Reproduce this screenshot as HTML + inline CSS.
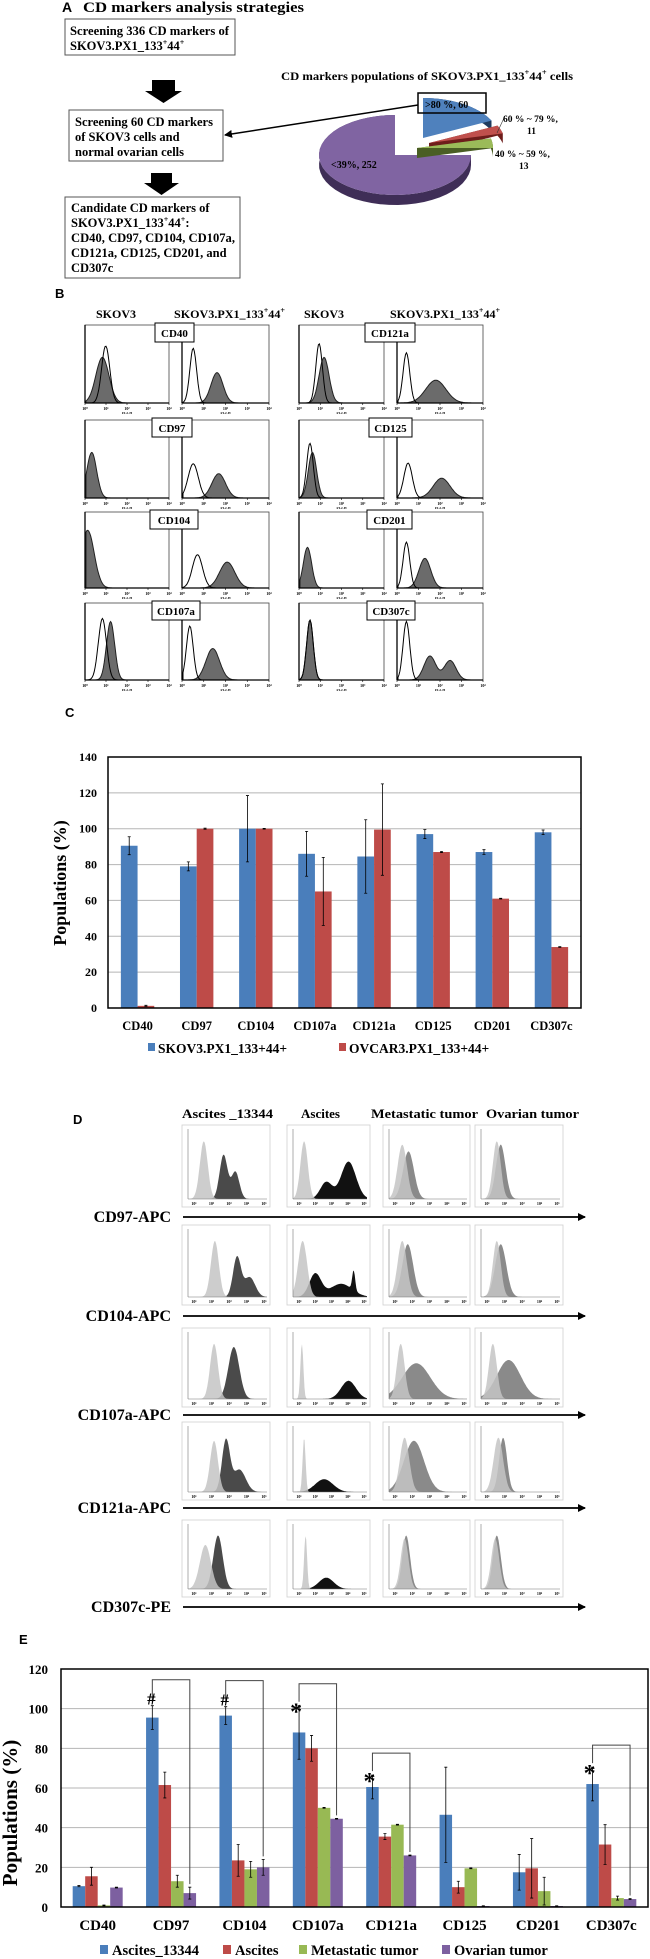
<!DOCTYPE html>
<html><head><meta charset="utf-8"><style>
html,body{margin:0;padding:0;background:#fff}
svg{display:block}
text{font-family:"Liberation Serif",serif;font-weight:bold;fill:#000}
.sans{font-family:"Liberation Sans",sans-serif}
</style></head><body>
<svg id="fig" xmlns="http://www.w3.org/2000/svg" width="650" height="1959" viewBox="0 0 650 1959">
<defs>
<marker id="ah" markerWidth="8" markerHeight="8" refX="7" refY="4" orient="auto" markerUnits="userSpaceOnUse"><path d="M0,0 L8,4 L0,8 Z" fill="#000"/></marker>
</defs>
<g>
<text class="sans" x="62" y="12" font-size="14">A</text>
<text x="83" y="12" font-size="15" textLength="221" lengthAdjust="spacingAndGlyphs">CD markers analysis strategies</text>
<rect x="65" y="19" width="170" height="36" fill="#fff" stroke="#555"/>
<text x="70" y="35" font-size="12.5" textLength="159" lengthAdjust="spacingAndGlyphs">Screening 336 CD markers of</text>
<text x="70" y="50" font-size="12.5">SKOV3.PX1_133<tspan font-size="8" dy="-5">+</tspan><tspan dy="5">44</tspan><tspan font-size="8" dy="-5">+</tspan></text>
<path d="M152,80 H175 V91 H182 L163.5,103 L145,91 H152 Z" fill="#000"/>
<rect x="69" y="110" width="154" height="51" fill="#fff" stroke="#555"/>
<text x="75" y="126" font-size="12.5" textLength="138" lengthAdjust="spacingAndGlyphs">Screening 60 CD markers</text>
<text x="75" y="141" font-size="12.5">of SKOV3 cells and</text>
<text x="75" y="156" font-size="12.5">normal ovarian cells</text>
<path d="M151,173 H172 V183 H179 L161.5,195 L144,183 H151 Z" fill="#000"/>
<rect x="65" y="197" width="175" height="81" fill="#fff" stroke="#555"/>
<text x="71" y="212" font-size="12.5">Candidate CD markers of</text>
<text x="71" y="227" font-size="12.5">SKOV3.PX1_133<tspan font-size="8" dy="-5">+</tspan><tspan dy="5">44</tspan><tspan font-size="8" dy="-5">+</tspan><tspan dy="5">:</tspan></text>
<text x="71" y="242" font-size="12.5" textLength="164" lengthAdjust="spacingAndGlyphs">CD40, CD97, CD104, CD107a,</text>
<text x="71" y="257" font-size="12.5">CD121a, CD125, CD201, and</text>
<text x="71" y="272" font-size="12.5">CD307c</text>
<text x="281" y="80" font-size="12" textLength="292" lengthAdjust="spacingAndGlyphs">CD markers populations of SKOV3.PX1_133<tspan font-size="8" dy="-5">+</tspan><tspan dy="5">44</tspan><tspan font-size="8" dy="-5">+</tspan><tspan dy="5"> cells</tspan></text>
<g id="pie"></g>
<line x1="418" y1="105" x2="225" y2="135" stroke="#000" stroke-width="1.5" marker-end="url(#ah)"/>
<rect x="418" y="93" width="68" height="20" fill="none" stroke="#000" stroke-width="1.5"/>
<text x="425" y="108" font-size="10">&gt;80 %, 60</text>
<line x1="497" y1="133" x2="504" y2="118" stroke="#333" stroke-width="0.6"/>
<text x="503" y="122" font-size="9.5">60 % ~ 79 %,</text>
<text x="527" y="134" font-size="9.5">11</text>
<text x="495" y="157" font-size="9.5">40 % ~ 59 %,</text>
<text x="519" y="169" font-size="9.5">13</text>
<text x="331" y="168" font-size="10">&lt;39%, 252</text>
</g>
<text class="sans" x="55" y="298" font-size="13">B</text>
<text x="96" y="318" font-size="12">SKOV3</text>
<text x="174" y="318" font-size="12" textLength="111" lengthAdjust="spacingAndGlyphs">SKOV3.PX1_133<tspan font-size="8" dy="-5">+</tspan><tspan dy="5">44</tspan><tspan font-size="8" dy="-5">+</tspan></text>
<text x="304" y="318" font-size="12">SKOV3</text>
<text x="390" y="318" font-size="12" textLength="110" lengthAdjust="spacingAndGlyphs">SKOV3.PX1_133<tspan font-size="8" dy="-5">+</tspan><tspan dy="5">44</tspan><tspan font-size="8" dy="-5">+</tspan></text>
<g id="panelB"></g>
<text class="sans" x="65" y="717" font-size="13">C</text>
<g id="chartC"></g>
<text class="sans" x="73" y="1124" font-size="13">D</text>
<text x="182" y="1118" font-size="13" textLength="91" lengthAdjust="spacingAndGlyphs">Ascites _13344</text>
<text x="301" y="1118" font-size="13">Ascites</text>
<text x="371" y="1118" font-size="13" textLength="107" lengthAdjust="spacingAndGlyphs">Metastatic tumor</text>
<text x="486" y="1118" font-size="13" textLength="93" lengthAdjust="spacingAndGlyphs">Ovarian tumor</text>
<g id="panelD"></g>
<text class="sans" x="19" y="1644" font-size="13">E</text>
<g id="chartE"></g>
</svg>
<script>
const NS='http://www.w3.org/2000/svg';
function mk(tag,attrs,parent){const e=document.createElementNS(NS,tag);for(const k in attrs)e.setAttribute(k,attrs[k]);parent.appendChild(e);return e;}
function tx(x,y,s,size,parent,anchor){const e=mk('text',{x:x,y:y,'font-size':size,'text-anchor':anchor||'start'},parent);e.textContent=s;return e;}

const pieLabels=['>80 %','60 % ~ 79 %','40 % ~ 59 %','<39%'];
const pieCounts=[60,11,13,252];
const pieTop=['#4f81bd','#c0504d','#9bbb59','#8064a2'];
const pieSide=['#1f3b5e','#6e1d1b','#4a5e24','#3f2e57'];
(function(){
  const g=document.getElementById('pie');
  const total=pieCounts.reduce((a,b)=>a+b,0);
  const rx=76,ry=40,dep=10;
  const offs=[[28,-17],[34,-12],[22,-7],[0,0]];
  let a0=-Math.PI/2;
  const slices=[];
  pieCounts.forEach((c,i)=>{const a1=a0+c/total*2*Math.PI;slices.push([a0,a1]);a0=a1;});
  [3,0,1,2].forEach(i=>{
    const [s,e]=slices[i];const cx=395+offs[i][0],cy=155+offs[i][1];
    const pt=a=>[cx+rx*Math.cos(a),cy+ry*Math.sin(a)];
    const n=40;const pts=[];
    for(let k=0;k<=n;k++){const a=s+(e-s)*k/n;pts.push(pt(a));}
    const d='M'+pts.map(p=>p[0].toFixed(1)+','+(p[1]+dep).toFixed(1)).join(' L')+' L'+pts.slice().reverse().map(p=>p[0].toFixed(1)+','+p[1].toFixed(1)).join(' L')+'Z';
    const side=mk('path',{d:d,fill:pieSide[i]},g);
    
    
    const [sx,sy]=pt(s);
    const fr=mk('path',{d:`M${cx},${cy} L${cx},${cy+dep} L${sx},${sy+dep} L${sx},${sy}Z`,fill:pieSide[i]},g);
    
    
    const topd='M'+cx+','+cy+' L'+pts.map(p=>p[0].toFixed(1)+','+p[1].toFixed(1)).join(' L')+'Z';
    const t=mk('path',{d:topd,fill:pieTop[i]},g);
    
    
  });
})();

function hist(g,x0,y0,x1,y1,peaks,fill,stroke){
  const n=90;let d='M'+x0+','+y1;
  for(let k=0;k<=n;k++){const t=k/n;let v=0;peaks.forEach(p=>{v+=p[2]*Math.exp(-Math.pow((t-p[0])/p[1],2)/2);});
    v=Math.min(v,0.95);
    d+=' L'+(x0+t*(x1-x0)).toFixed(1)+','+(y1-v*(y1-y0)).toFixed(1);}
  d+=' L'+x1+','+y1+'Z';
  return mk('path',{d:d,fill:fill,stroke:stroke||'none','stroke-width':stroke?1:0},g);
}

const bRows=[[325,403],[420,498],[512,588],[603,680]];
const bCols=[[85,169],[182,269],[299,384],[397,483]];
const bMarkersL=['CD40','CD97','CD104','CD107a'];
const bMarkersR=['CD121a','CD125','CD201','CD307c'];
const bFilled=[
 [[[0.2,0.08,0.6]],[[0.4,0.07,0.4]],[[0.29,0.06,0.6]],[[0.45,0.12,0.3]]],
 [[[0.07,0.06,0.6]],[[0.42,0.08,0.32]],[[0.15,0.05,0.6]],[[0.52,0.1,0.26]]],
 [[[0.02,0.08,0.78]],[[0.52,0.09,0.35]],[[0.09,0.05,0.55]],[[0.32,0.07,0.4]]],
 [[[0.3,0.05,0.78]],[[0.35,0.08,0.42]],[[0.12,0.04,0.8]],[[0.38,0.07,0.32],[0.62,0.07,0.26]]]];
const bOutline=[
 [[[0.24,0.05,0.75]],[[0.12,0.04,0.72]],[[0.23,0.04,0.78]],[[0.1,0.04,0.66]]],
 [[],[[0.12,0.06,0.45]],[[0.12,0.04,0.72]],[[0.12,0.05,0.46]]],
 [[],[[0.17,0.06,0.45]],[],[[0.1,0.04,0.62]]],
 [[[0.2,0.05,0.82]],[[0.08,0.04,0.72]],[[0.12,0.04,0.8]],[[0.1,0.04,0.78]]]];
const bLabelBoxL=[[155,194],[152,192],[150,198],[152,200]];
const bLabelBoxR=[[365,415],[369,412],[367,412],[367,415]];
(function(){
  const g=document.getElementById('panelB');
  bRows.forEach((r,ri)=>{
    bCols.forEach((c,ci)=>{
      const pg=mk('g',{},g);
      
      
      mk('rect',{x:c[0],y:r[0],width:c[1]-c[0],height:r[1]-r[0],fill:'#fff',stroke:'#444','stroke-width':0.8},pg);
      hist(pg,c[0]+1,r[0]+2,c[1]-1,r[1],bFilled[ri][ci],'#6b6b6b','#222');
      bOutline[ri][ci].length&&hist(pg,c[0]+1,r[0]+2,c[1]-1,r[1],bOutline[ri][ci],'none','#000');
      mk('line',{x1:c[0],y1:r[0],x2:c[0],y2:r[1],stroke:'#000','stroke-width':1.3},pg);
      mk('line',{x1:c[0],y1:r[1],x2:c[1],y2:r[1],stroke:'#000','stroke-width':1.3},pg);
      for(let k=0;k<5;k++){const x=c[0]+k*(c[1]-c[0])/4;mk('line',{x1:x,y1:r[1],x2:x,y2:r[1]+2,stroke:'#000','stroke-width':0.6},pg);
        const t=tx(x,r[1]+7,'10'+['⁰','¹','²','³','⁴'][k],4,pg,'middle');t.setAttribute('fill','#555');}
      tx((c[0]+c[1])/2,r[1]+11,'FL2-H',3.5,pg,'middle');
    });
    [[bLabelBoxL,bMarkersL],[bLabelBoxR,bMarkersR]].forEach(([bx,names])=>{
      const b=bx[ri];
      const rr=mk('rect',{x:b[0],y:r[0]-2,width:b[1]-b[0],height:19,fill:'#fff',stroke:'#000','stroke-width':1},g);
      
      
      tx((b[0]+b[1])/2,r[0]+12,names[ri],11,g,'middle');
    });
  });
})();

const cCategories=['CD40','CD97','CD104','CD107a','CD121a','CD125','CD201','CD307c'];
const cSeriesNames=['SKOV3.PX1_133+44+','OVCAR3.PX1_133+44+'];
const cSkov3=[90.5,79,100,86,84.5,97,87,98];
const cSkov3Err=[5,2.5,18.5,12.5,20.5,2.5,1.3,1.3];
const cOvcar3=[1.2,100,100,65,99.5,87,61,34];
const cOvcar3Err=[0.3,0.3,0.2,19,25.5,0.3,0.2,0.2];
const cTicks=[0,20,40,60,80,100,120,140];
(function(){
  const g=document.getElementById('chartC');
  const L=108,R=581,T=757,B=1008,ymax=140;
  const y=v=>B-v/ymax*(B-T);
  const gw=(R-L)/cCategories.length,bw=16.7;
  cTicks.forEach(t=>{
    if(t>0&&t<ymax){const l=mk('line',{x1:L,x2:R,y1:y(t),y2:y(t),stroke:'#b5b5b5','stroke-width':1},g);}
    const tl=tx(L-11,y(t)+4,String(t),12,g,'end');
  });
  const series=[[cSkov3,cSkov3Err,'#4a7ebb'],[cOvcar3,cOvcar3Err,'#be4b48']];
  cCategories.forEach((cat,i)=>{
    const cx=L+gw*(i+0.5);
    series.forEach(([vals,errs,col],s)=>{
      const x=cx-bw+s*bw;
      const r=mk('rect',{x:x,y:y(vals[i]),width:bw,height:B-y(vals[i]),fill:col},g);
      
      
      const ex=x+bw/2,e1=y(vals[i]+errs[i]),e2=y(vals[i]-errs[i]);
      const eb=mk('path',{d:`M${ex},${e1} V${e2} M${ex-1.5},${e1} H${ex+1.5} M${ex-1.5},${e2} H${ex+1.5}`,stroke:'#000','stroke-width':0.8,fill:'none'},g);
      
      
    });
    const cl=tx(cx,1030,cat,12.5,g,'middle');
    
    
  });
  mk('rect',{x:L,y:T,width:R-L,height:B-T,fill:'none',stroke:'#000','stroke-width':1.5},g);
  const yt=tx(0,0,'Populations (%)',18,g,'middle');
  yt.setAttribute('transform','translate(66,883) rotate(-90)');
  
  
  const lx=[148,339],cols=['#4a7ebb','#be4b48'];
  cSeriesNames.forEach((n,i)=>{
    const s=mk('rect',{x:lx[i],y:1043,width:7,height:8,fill:cols[i]},g);
    
    
    const t=tx(lx[i]+10,1053,n,13.5,g);
    
    
  });
})();

const dMarkers=['CD97-APC','CD104-APC','CD107a-APC','CD121a-APC','CD307c-PE'];
const dRows=[[1125,1207],[1225,1305],[1328,1407],[1422,1500],[1520,1597]];
const dArrowY=[1217,1316,1415,1508,1607];
const dCols=[[182,270],[287,370],[383,470],[475,563]];
const dCtrl=[
 [[[0.2,0.05,0.85]],[[0.15,0.05,0.85]],[[0.17,0.06,0.8]],[[0.2,0.05,0.85]]],
 [[[0.34,0.05,0.85]],[[0.13,0.06,0.85]],[[0.17,0.06,0.85]],[[0.2,0.05,0.85]]],
 [[[0.33,0.05,0.85]],[[0.12,0.02,0.85]],[[0.15,0.05,0.85]],[[0.15,0.05,0.85]]],
 [[[0.33,0.05,0.8]],[[0.15,0.02,0.85]],[[0.2,0.06,0.85]],[[0.22,0.06,0.85]]],
 [[[0.22,0.07,0.7]],[[0.17,0.02,0.85]],[[0.2,0.05,0.8]],[[0.18,0.05,0.8]]]];
const dTest=[
 [[[0.45,0.05,0.65],[0.6,0.05,0.4]],[[0.75,0.1,0.55],[0.45,0.08,0.25]],[[0.25,0.07,0.7]],[[0.25,0.06,0.8]]],
 [[[0.62,0.05,0.6],[0.78,0.07,0.3]],[[0.3,0.08,0.35],[0.65,0.15,0.2],[0.82,0.02,0.3]],[[0.24,0.07,0.8]],[[0.25,0.07,0.8]]],
 [[[0.58,0.07,0.8]],[[0.75,0.1,0.28]],[[0.35,0.18,0.55]],[[0.35,0.15,0.6]]],
 [[[0.48,0.05,0.8],[0.65,0.08,0.35]],[[0.42,0.12,0.2]],[[0.32,0.13,0.8]],[[0.28,0.05,0.85]]],
 [[[0.38,0.06,0.85]],[[0.45,0.1,0.18]],[[0.22,0.05,0.85]],[[0.2,0.05,0.85]]]];
const dTestColor=['#4a4a4a','#111111','#8a8a8a','#8a8a8a'];
(function(){
  const g=document.getElementById('panelD');
  dRows.forEach((r,ri)=>{
    dCols.forEach((c,ci)=>{
      const pg=mk('g',{},g);
      
      
      mk('rect',{x:c[0],y:r[0],width:c[1]-c[0],height:r[1]-r[0],fill:'#fff',stroke:'#cfcfcf','stroke-width':0.8},pg);
      const px0=c[0]+6,py1=r[1]-8;
      hist(pg,px0,r[0]+6,c[1]-3,py1,dTest[ri][ci],dTestColor[ci]);
      const cp=hist(pg,px0,r[0]+6,c[1]-3,py1,dCtrl[ri][ci],'#c4c4c4');
      cp.setAttribute('fill-opacity','0.85');
      mk('line',{x1:px0,y1:r[0]+4,x2:px0,y2:py1,stroke:'#777','stroke-width':0.6},pg);
      mk('line',{x1:px0,y1:py1,x2:c[1]-3,y2:py1,stroke:'#777','stroke-width':0.6},pg);
      for(let k=0;k<5;k++){const x=px0+6+k*(c[1]-px0-12)/4;const t=tx(x,r[1]-2,'10'+['¹','²','³','⁴','⁵'][k],4,pg,'middle');t.setAttribute('fill','#555');}
    });
    const lab=tx(171,dArrowY[ri]+5,dMarkers[ri],16,g,'end');
    
    
    const a=mk('line',{x1:183,y1:dArrowY[ri],x2:585,y2:dArrowY[ri],stroke:'#000','stroke-width':1.8,'marker-end':'url(#ah)'},g);
    
    
  });
})();

const eCategories=['CD40','CD97','CD104','CD107a','CD121a','CD125','CD201','CD307c'];
const eSeriesNames=['Ascites_13344','Ascites','Metastatic tumor','Ovarian tumor'];
const eAscites13344=[10.5,95.5,96.5,88,60.5,46.5,17.5,62];
const eAscites13344Err=[0.3,6,4.5,13.5,6,24,9,8.5];
const eAscites=[15.5,61.5,23.5,80,35.5,10,19.5,31.5];
const eAscitesErr=[4.5,6.5,8,6.5,1.5,3,15,10];
const eMetastatic=[0.8,13,19,50,41.5,19.5,8,4.5];
const eMetastaticErr=[0.2,3,4,0.2,0.2,0.2,7,1];
const eOvarian=[9.8,7,20,44.5,26,0.5,0.5,4];
const eOvarianErr=[0.2,3,4,0.2,0.2,0.1,0.1,0.3];
const eTicks=[0,20,40,60,80,100,120];
const eSigMarks=['','#','#','*','*','','','*'];
(function(){
  const g=document.getElementById('chartE');
  const L=61,R=648,T=1669,B=1907,ymax=120;
  const y=v=>B-v/ymax*(B-T);
  const gw=(R-L)/eCategories.length,bw=12.5;
  eTicks.forEach(t=>{
    if(t>0&&t<ymax){const l=mk('line',{x1:L,x2:R,y1:y(t),y2:y(t),stroke:'#b5b5b5','stroke-width':1},g);}
    const tl=tx(L-13,y(t)+5,String(t),13,g,'end');
  });
  const series=[[eAscites13344,eAscites13344Err,'#4a7ebb'],[eAscites,eAscitesErr,'#be4b48'],[eMetastatic,eMetastaticErr,'#98b954'],[eOvarian,eOvarianErr,'#7d60a0']];
  eCategories.forEach((cat,i)=>{
    const cx=L+gw*(i+0.5);
    const tops=[];
    series.forEach(([vals,errs,col],s)=>{
      const x=cx-2*bw+s*bw;
      const r=mk('rect',{x:x,y:y(vals[i]),width:bw,height:B-y(vals[i]),fill:col},g);
      
      
      const ex=x+bw/2,e1=y(vals[i]+errs[i]),e2=y(vals[i]-errs[i]);
      tops.push([ex,e1]);
      const eb=mk('path',{d:`M${ex},${e1} V${e2} M${ex-1.5},${e1} H${ex+1.5} M${ex-1.5},${e2} H${ex+1.5}`,stroke:'#000','stroke-width':0.8,fill:'none'},g);
      
      
    });
    if(eSigMarks[i]){
      const [lx,ly]=tops[0],[rx,ry]=tops[3];
      const top=Math.min(ly,ry)-(eSigMarks[i]==='#'?26:22);
      const br=mk('path',{d:`M${lx},${ly-4} V${top} H${rx} V${ry-3}`,stroke:'#444','stroke-width':1,fill:'none'},g);
      
      
      const m=tx(lx-(eSigMarks[i]==='#'?1:3),ly+(eSigMarks[i]==='#'?-1:14),eSigMarks[i],eSigMarks[i]==='#'?17:24,g,'middle');
      
      
    }
    const cl=tx(cx,1930,cat,15,g,'middle');
    
    
  });
  mk('line',{x1:L,y1:B,x2:R,y2:B,stroke:'#777','stroke-width':1},g);
  mk('rect',{x:L,y:T,width:R-L,height:B-T,fill:'none',stroke:'#000','stroke-width':1.5},g);
  const yt=tx(0,0,'Populations (%)',21,g,'middle');
  yt.setAttribute('transform','translate(17,1813) rotate(-90)');
  
  
  const lx=[100,223,299,442],cols=['#4a7ebb','#be4b48','#98b954','#7d60a0'];
  eSeriesNames.forEach((n,i)=>{
    const s=mk('rect',{x:lx[i],y:1945,width:8,height:9,fill:cols[i]},g);
    
    
    const t=tx(lx[i]+12,1955,n,14.5,g);
    
    
  });
})();
</script>
</body></html>
